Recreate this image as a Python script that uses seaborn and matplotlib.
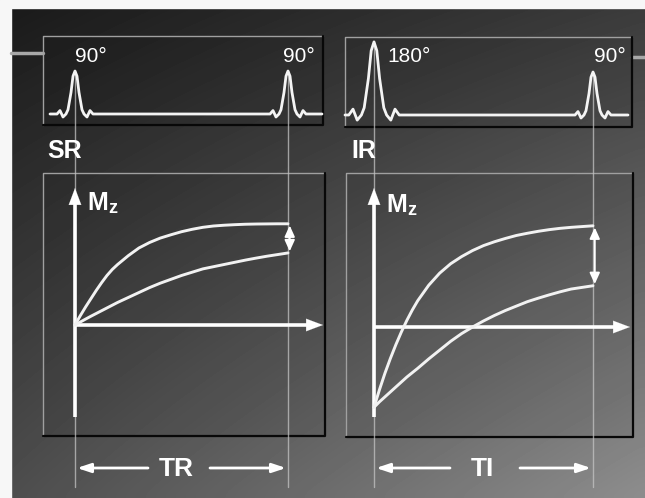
#!/usr/bin/env python
# saturation recovery vs inversion recovery, Mz regrowth for two tissues

import numpy as np
import seaborn as sns
import matplotlib.pyplot as plt

sns.set_theme(style="white")
plt.rcParams["font.family"] = ["Liberation Sans", "DejaVu Sans"]

# time in units of TR (SR panel) and TI (IR panel)
t = [0, 0.025, 0.05, 0.075, 0.1, 0.125, 0.15, 0.175, 0.2, 0.25, 0.3, 0.35, 0.4,
     0.45, 0.5, 0.55, 0.6, 0.65, 0.7, 0.75, 0.8, 0.85, 0.9, 0.95, 1.0]

# longitudinal magnetisation (1 unit = 110 px)
sr_short_t1 = [0, 0.085, 0.165, 0.24, 0.315, 0.385, 0.45, 0.505, 0.55, 0.63, 0.70,
               0.75, 0.79, 0.82, 0.848, 0.87, 0.888, 0.90, 0.907, 0.912, 0.916,
               0.918, 0.919, 0.92, 0.92]
sr_long_t1 = [0, 0.027, 0.054, 0.08, 0.105, 0.13, 0.155, 0.18, 0.205, 0.25, 0.295,
              0.34, 0.38, 0.415, 0.45, 0.48, 0.51, 0.53, 0.55, 0.57, 0.59, 0.608,
              0.625, 0.64, 0.655]
ir_short_t1 = [-0.73, -0.57, -0.42, -0.285, -0.16, -0.045, 0.06, 0.155, 0.24, 0.38,
               0.49, 0.575, 0.64, 0.695, 0.74, 0.775, 0.805, 0.832, 0.852, 0.87,
               0.885, 0.897, 0.906, 0.913, 0.92]
ir_long_t1 = [-0.73, -0.68, -0.635, -0.59, -0.545, -0.50, -0.455, -0.415, -0.375,
              -0.29, -0.21, -0.13, -0.06, 0.0, 0.055, 0.105, 0.15, 0.19, 0.23,
              0.262, 0.292, 0.32, 0.345, 0.36, 0.375]

# rf pulse shape (offset in px, amplitude relative to a 90 deg pulse)
pulse_dx = [-18, -15, -12, -9, -7, -4, -2, 0, 2, 4, 7, 9, 12, 15, 18]
pulse_amp = [0, 0.08, -0.07, 0, 0.1, 0.5, 0.88, 1, 0.88, 0.5, 0.1, 0, -0.07, 0.08, 0]

sequences = ["SR", "IR"]
flip_labels = [["90°", "90°"], ["180°", "90°"]]
pulse_heights = [[1.0, 1.0], [1.7, 1.0]]
pulse_widths = [[1.0, 1.0], [1.4, 1.0]]
interval_labels = ["TR", "TI"]

W, H = 645, 498
fig = plt.figure(figsize=(W / 100, H / 100), dpi=100)

# background in pixel coordinates
bg = fig.add_axes([0, 0, 1, 1])
bg.set_xlim(0, W)
bg.set_ylim(H, 0)
bg.axis("off")

yy, xx = np.mgrid[0:1:60j, 0:1:80j]
shade = 0.10 + 0.13 * xx + 0.20 * yy + 0.12 * xx * yy
bg.imshow(shade, cmap="gray", vmin=0, vmax=1, extent=(0, W, H, 0),
          interpolation="bicubic", aspect="auto", zorder=0)
bg.axhspan(0, 8, color="#f7f7f7", zorder=1)
bg.axvspan(0, 11, color="#f7f7f7", zorder=1)
bg.plot([11, 43], [53, 53], color="#a8a8a8", lw=2.5, zorder=2)
bg.plot([632, 645], [57, 57], color="#a8a8a8", lw=2.5, zorder=2)


def bevel_box(x0, y0, x1, y1):
    bg.fill_between([x0, x1], y0, y1, color="black", alpha=0.06, zorder=2)
    bg.plot([x0, x0, x1], [y1, y0, y0], color="#a0a0a0", lw=1.0, zorder=3)
    bg.plot([x0, x1, x1], [y1, y1, y0], color="#080808", lw=1.6, zorder=3)


def overlay(x0, y0, sx, sy):
    # transparent axes whose data origin sits at pixel (x0, y0)
    ax = fig.add_axes([0, 0, 1, 1], facecolor="none")
    ax.set_xlim(-x0 / sx, (W - x0) / sx)
    ax.set_ylim((y0 - H) / sy, y0 / sy)
    ax.axis("off")
    return ax


# panel layout in pixels
panels = [
    dict(pbox=(43, 36, 323, 125), gbox=(43, 173, 325, 436), t0=75, t1=288,
         base=114, zero=325, curves=(sr_short_t1, sr_long_t1), span=(50, 322),
         xtip=323, lab=(47, 158), mz=(87, 210), txt=176, gap=28),
    dict(pbox=(345, 37, 632, 127), gbox=(346, 173, 633, 437), t0=374, t1=593,
         base=115, zero=327, curves=(ir_short_t1, ir_long_t1), span=(345, 628),
         xtip=630, lab=(351, 158), mz=(386, 212), txt=482, gap=32),
]

head = dict(arrowstyle="-|>,head_length=1.2,head_width=0.45", color="white",
            lw=0.1, mutation_scale=10, shrinkA=0, shrinkB=0)

for i, p in enumerate(panels):
    bevel_box(*p["pbox"])
    bevel_box(*p["gbox"])
    sx = p["t1"] - p["t0"]

    # guide lines from the pulses down to the interval arrows
    for k, xg in enumerate([p["t0"], p["t1"]]):
        top = p["base"] - 43 * pulse_heights[i][k]
        bg.plot([xg, xg], [top, 487], color="#c4c4c4", lw=1.0, alpha=0.75, zorder=4)

    # pulse train
    pax = overlay(p["t0"], p["base"], sx, 43)
    px = [(p["span"][0] - p["t0"]) / sx]
    py = [0]
    for k, centre in enumerate([0.0, 1.0]):
        px += [centre + d * pulse_widths[i][k] / sx for d in pulse_dx]
        py += [a * pulse_heights[i][k] for a in pulse_amp]
    px.append((p["span"][1] - p["t0"]) / sx)
    py.append(0)
    sns.lineplot(x=px, y=py, ax=pax, color="#f4f4f4", lw=2.0, estimator=None,
                 sort=False, legend=False)
    pax.set_xlim(-p["t0"] / sx, (W - p["t0"]) / sx)
    pax.set_ylim((p["base"] - H) / 43, p["base"] / 43)

    # flip angle labels
    bg.text(p["t0"] + (0 if i == 0 else 13), 62, flip_labels[i][0], color="white",
            fontsize=15, ha="left", va="baseline", zorder=6)
    bg.text(p["t1"] - (5 if i == 0 else -1), 62, flip_labels[i][1], color="white",
            fontsize=15, ha="left", va="baseline", zorder=6)
    bg.text(p["lab"][0], p["lab"][1], sequences[i], color="white", fontsize=18,
            fontweight="bold", ha="left", va="baseline", zorder=6)

    # Mz recovery curves
    cax = overlay(p["t0"], p["zero"], sx, 110)
    y_top = (p["zero"] - 188) / 110
    y_bot = (p["zero"] - 417) / 110
    x_end = (p["xtip"] - p["t0"]) / sx
    cax.plot([0, 0], [y_bot, y_top - 0.12], color="white", lw=2.6, solid_capstyle="butt")
    cax.annotate("", xy=(0, y_top), xytext=(0, y_top - 0.15), arrowprops=head)
    cax.plot([0, x_end - 0.06], [0, 0], color="white", lw=2.6, solid_capstyle="butt")
    cax.annotate("", xy=(x_end, 0), xytext=(x_end - 0.07, 0), arrowprops=head)
    for curve in p["curves"]:
        sns.lineplot(x=t, y=curve, ax=cax, color="#f2f2f2", lw=2.1,
                     estimator=None, sort=False, legend=False)
    cax.annotate("", xy=(t[-1] + 0.008, p["curves"][0][-1] - 0.015),
                 xytext=(t[-1] + 0.008, p["curves"][1][-1] + 0.015),
                 arrowprops=dict(arrowstyle="<|-|>,head_length=1.1,head_width=0.5",
                                 color="white", lw=1.4, mutation_scale=6,
                                 shrinkA=0, shrinkB=0))
    cax.set_xlim(-p["t0"] / sx, (W - p["t0"]) / sx)
    cax.set_ylim((p["zero"] - H) / 110, p["zero"] / 110)

    bg.text(p["mz"][0], p["mz"][1], "M", color="white", fontsize=18,
            fontweight="bold", ha="left", va="baseline", zorder=6)
    bg.text(p["mz"][0] + 21, p["mz"][1] + 3, "z", color="white", fontsize=13,
            fontweight="bold", ha="left", va="baseline", zorder=6)

    # interval arrows
    ya = 468
    bg.text(p["txt"], ya + 1, interval_labels[i], color="white", fontsize=19,
            fontweight="bold", ha="center", va="center", zorder=6)
    for start, tip in [(p["txt"] - p["gap"], p["t0"] + 2),
                       (p["txt"] + p["gap"] + 6, p["t1"] - 2)]:
        bg.annotate("", xy=(tip, ya), xytext=(start, ya),
                    arrowprops=dict(arrowstyle="-|>,head_length=0.9,head_width=0.3",
                                    color="white", lw=2.0, mutation_scale=9,
                                    shrinkA=0, shrinkB=0), zorder=6)

plt.savefig("out.png", dpi=100)
plt.close()
